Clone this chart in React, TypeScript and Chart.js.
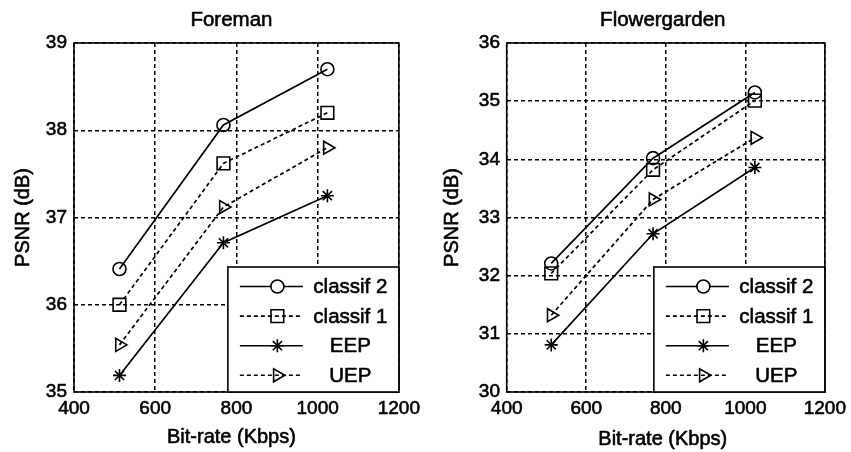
import React, { useEffect, useRef } from "react";
import { Chart, registerables } from "chart.js";
import { drawPoint } from "chart.js/helpers";

Chart.register(...registerables);

// ---- Data ----
const bitRates = [512, 768, 1024];
const seriesLabels = ["classif 2", "classif 1", "EEP", "UEP"];

const foremanClassif2 = [36.41, 38.06, 38.7];
const foremanClassif1 = [36.0, 37.62, 38.2];
const foremanEEP = [35.19, 36.71, 37.25];
const foremanUEP = [35.54, 37.12, 37.8];

const flowerClassif2 = [32.21, 34.02, 35.15];
const flowerClassif1 = [32.04, 33.82, 35.01];
const flowerEEP = [30.81, 32.72, 33.86];
const flowerUEP = [31.32, 33.31, 34.37];

const xTicks = [400, 600, 800, 1000, 1200];
const foremanYTicks = [35, 36, 37, 38, 39];
const flowerYTicks = [30, 31, 32, 33, 34, 35, 36];

const xAxisTitle = "Bit-rate (Kbps)";
const yAxisTitle = "PSNR (dB)";

const FONT = "'Liberation Sans', Arial, Helvetica, sans-serif";

const seriesStyles = [
  { pointStyle: "circle", dash: [], radius: 6.5, rotation: 0 },
  { pointStyle: "rect", dash: [4, 3], radius: 9, rotation: 0 },
  { pointStyle: "star", dash: [], radius: 6.5, rotation: 0 },
  { pointStyle: "triangle", dash: [4, 3], radius: 7.5, rotation: 90 },
];

function heavyText(ctx: any, text: string, x: number, y: number, size: number, rot = 0) {
  ctx.save();
  ctx.translate(x, y);
  if (rot) ctx.rotate(rot);
  ctx.font = `${size}px ${FONT}`;
  ctx.textAlign = "center";
  ctx.textBaseline = "middle";
  ctx.fillStyle = "#000";
  ctx.strokeStyle = "#000";
  ctx.lineWidth = 0.6;
  ctx.lineJoin = "round";
  ctx.fillText(text, 0, 0);
  ctx.strokeText(text, 0, 0);
  ctx.restore();
}

const framePlugin = {
  id: "frame",
  afterDatasetsDraw(chart: any) {
    const { ctx, chartArea } = chart;
    ctx.save();
    ctx.strokeStyle = "#000";
    ctx.lineWidth = 1.6;
    ctx.setLineDash([]);
    ctx.strokeRect(
      chartArea.left,
      chartArea.top,
      chartArea.right - chartArea.left,
      chartArea.bottom - chartArea.top
    );
    ctx.restore();
  },
};

const titlesPlugin = {
  id: "titles",
  afterDraw(chart: any, _args: any, opts: any) {
    const { ctx, chartArea } = chart;
    const cx = (chartArea.left + chartArea.right) / 2;
    const cy = (chartArea.top + chartArea.bottom) / 2;
    heavyText(ctx, opts.title, cx - opts.shift, 20, 20.5);
    heavyText(ctx, xAxisTitle, cx - opts.shift, opts.xTitleY, 20);
    heavyText(ctx, yAxisTitle, opts.yTitleX, cy, 20, -Math.PI / 2);
  },
};

const boxLegendPlugin = {
  id: "boxLegend",
  afterDraw(chart: any) {
    const { ctx, chartArea } = chart;
    const w = 171;
    const h = 125;
    const left = chartArea.right - w;
    const top = chartArea.bottom - h;
    ctx.save();
    ctx.fillStyle = "#fff";
    ctx.fillRect(left, top, w, h);
    ctx.strokeStyle = "#000";
    ctx.lineWidth = 1.6;
    ctx.setLineDash([]);
    ctx.strokeRect(left, top, w, h);
    chart.data.datasets.forEach((ds: any, i: number) => {
      const y = top + 19.5 + i * 29.6;
      ctx.save();
      ctx.strokeStyle = "#000";
      ctx.lineWidth = 1.6;
      ctx.setLineDash(ds.borderDash || []);
      ctx.beginPath();
      ctx.moveTo(left + 12, y);
      ctx.lineTo(left + 75, y);
      ctx.stroke();
      ctx.setLineDash([]);
      ctx.fillStyle = "#fff";
      if (ds.pointStyle === "circle") {
        ctx.beginPath();
        ctx.arc(left + 49.5, y, ds.pointRadius - 0.5, 0, Math.PI * 2);
        ctx.fill();
      }
      ctx.fillStyle = "rgba(0,0,0,0)";
      ctx.strokeStyle = "#000";
      drawPoint(
        ctx,
        {
          pointStyle: ds.pointStyle,
          rotation: ds.pointRotation || 0,
          radius: ds.pointRadius,
          borderWidth: 1.6,
        } as any,
        left + 49.5,
        y
      );
      ctx.restore();
      heavyText(ctx, ds.label, left + 122.5, y + 1, 20.5);
    });
    ctx.restore();
  },
};

type PanelProps = {
  title: string;
  series: number[][];
  yTicks: number[];
  yAxisWidth: number;
  rightPad: number;
  yTickPad: number;
  yTitleX: number;
  xTitleY: number;
  shift: number;
  left: number;
};

function Panel(props: PanelProps) {
  const ref = useRef<HTMLCanvasElement | null>(null);
  useEffect(() => {
    if (!ref.current) return;
    const yMin = props.yTicks[0];
    const yMax = props.yTicks[props.yTicks.length - 1];
    const datasets = props.series.map((vals, i) => {
      const st = seriesStyles[i];
      return {
        label: seriesLabels[i],
        data: bitRates.map((x, j) => ({ x, y: vals[j] })),
        borderColor: "#000",
        borderWidth: 1.7,
        borderDash: st.dash,
        pointStyle: st.pointStyle,
        pointRadius: st.radius,
        pointRotation: st.rotation,
        pointBorderWidth: 1.6,
        pointBorderColor: "#000",
        pointBackgroundColor: "rgba(0,0,0,0)",
        fill: false,
        tension: 0,
      };
    });
    const tickFont = { family: FONT, size: 19 };
    const chart = new Chart(ref.current, {
      type: "line",
      data: { datasets } as any,
      options: {
        animation: false,
        responsive: false,
        events: [],
        layout: { padding: { left: 0, right: props.rightPad, top: 43, bottom: 0 } },
        plugins: {
          legend: { display: false },
          tooltip: { enabled: false },
          title: { display: false },
          titles: {
            title: props.title,
            shift: props.shift,
            xTitleY: props.xTitleY,
            yTitleX: props.yTitleX,
          },
        },
        scales: {
          x: {
            type: "linear",
            min: xTicks[0],
            max: xTicks[xTicks.length - 1],
            afterBuildTicks: (s: any) => {
              s.ticks = xTicks.map((v) => ({ value: v }));
            },
            afterFit: (s: any) => {
              s.height = 60;
            },
            grid: { color: "#000", lineWidth: 1.5, drawTicks: false },
            border: { display: false, dash: [4, 3] },
            ticks: {
              color: "#000",
              font: tickFont,
              padding: 5,
              maxRotation: 0,
              textStrokeColor: "#000",
              textStrokeWidth: 0.6,
              callback: (v: any) => String(v),
            },
            title: { display: false },
          },
          y: {
            type: "linear",
            min: yMin,
            max: yMax,
            afterBuildTicks: (s: any) => {
              s.ticks = props.yTicks.map((v) => ({ value: v }));
            },
            afterFit: (s: any) => {
              s.width = props.yAxisWidth;
            },
            grid: { color: "#000", lineWidth: 1.5, drawTicks: false },
            border: { display: false, dash: [4, 3] },
            ticks: {
              color: "#000",
              font: tickFont,
              padding: props.yTickPad,
              textStrokeColor: "#000",
              textStrokeWidth: 0.6,
              callback: (v: any) => String(v),
            },
            title: { display: false },
          },
        },
      } as any,
      plugins: [framePlugin, boxLegendPlugin, titlesPlugin],
    });
    return () => chart.destroy();
  }, []);
  return (
    <canvas
      ref={ref}
      width={425}
      height={452}
      style={{ position: "absolute", left: props.left, top: 0, width: 425, height: 452 }}
    />
  );
}

export default function App() {
  return (
    <div style={{ position: "absolute", left: 0, top: 0, width: 851, height: 452, background: "#fff" }}>
      <Panel
        title="Foreman"
        series={[foremanClassif2, foremanClassif1, foremanEEP, foremanUEP]}
        yTicks={foremanYTicks}
        yAxisWidth={74}
        rightPad={25.5}
        yTickPad={7}
        yTitleX={23}
        xTitleY={437}
        shift={5}
        left={0}
      />
      <Panel
        title="Flowergarden"
        series={[flowerClassif2, flowerClassif1, flowerEEP, flowerUEP]}
        yTicks={flowerYTicks}
        yAxisWidth={80.7}
        rightPad={22}
        yTickPad={6.7}
        yTitleX={26.7}
        xTitleY={439}
        shift={3}
        left={426}
      />
    </div>
  );
}
